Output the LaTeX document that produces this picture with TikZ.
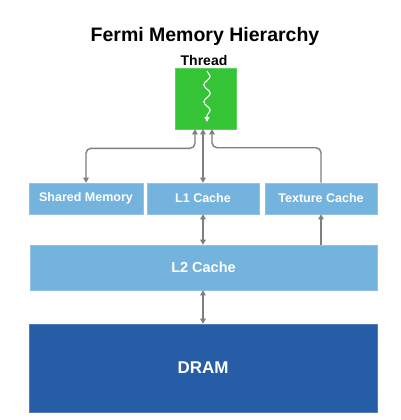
\documentclass[tikz,border=0pt]{standalone}
\usepackage{fontspec}
\setmainfont{Liberation Sans}
\usetikzlibrary{arrows.meta,calc,decorations.pathmorphing}
\definecolor{thrgreen}{HTML}{35C435}
\definecolor{lblue}{HTML}{74B3DE}
\definecolor{dblue}{HTML}{275DA6}
\definecolor{arrgray}{HTML}{7F7F7F}
\tikzset{
  box/.style={fill=lblue, draw=lblue!80!white, line width=0.6pt, inner sep=0pt, text=white, font=\bfseries\fontsize{12.5}{14}\selectfont, align=center},
  conn/.style={draw=arrgray, line width=1.4pt, rounded corners=5pt, >={Triangle[length=5pt,width=5.5pt]}},
}
\begin{document}
\begin{tikzpicture}[x=1pt,y=1pt]
\useasboundingbox (0,0) rectangle (401,-420);
\fill[white] (0,0) rectangle (401,-420);
\node[font=\bfseries\fontsize{19.5}{21}\selectfont] (title) at (205,-36) {Fermi Memory Hierarchy};
\node[font=\bfseries\fontsize{14}{16}\selectfont] (thrlabel) at (204,-60) {Thread};
\node[fill=thrgreen, draw=thrgreen!80!white, line width=0.6pt, minimum width=61pt, minimum height=61pt, inner sep=0pt] (thread) at (205.5,-98.5) {};
\coordinate (sqa) at (207,-71);
\coordinate (sqb) at (207,-122);
\draw[white, line width=1.1pt, -{Triangle[length=5pt,width=5pt]},
  decorate, decoration={snake, amplitude=3.2pt, segment length=17pt, post length=5pt}] (sqa) -- (sqb);
\node[box, minimum width=114pt, minimum height=31pt] (shared) at (86,-198.5) {Shared Memory};
\node[box, minimum width=112pt, minimum height=31pt] (l1) at (203,-198.5) {L1 Cache};
\node[box, minimum width=112pt, minimum height=31pt] (tex) at (321,-198.5) {Texture Cache};
\node[box, minimum width=347pt, minimum height=45pt, font=\bfseries\fontsize{14.5}{16}\selectfont] (l2) at (203.5,-267.5) {L2 Cache};
\node[box, fill=dblue, draw=dblue!80!white, minimum width=348pt, minimum height=88pt, font=\bfseries\fontsize{17}{19}\selectfont] (dram) at (203,-368) {DRAM};
\draw[conn, <->] ([xshift=-10.5pt]thread.south) -- ++(0,-19) -| (shared.north);
\draw[conn, <->] (thread.south -| l1.north) -- (l1.north);
\draw[conn, ->] (tex.north) -- ++(0,35) -| ([xshift=6.5pt]thread.south);
\draw[conn, <->] (l1.south) -- (l1.south |- l2.north);
\draw[conn, ->] (tex.south |- l2.north) -- (tex.south);
\draw[conn, <->] (l2.south -| dram.north) -- (dram.north);
\end{tikzpicture}
\end{document}
